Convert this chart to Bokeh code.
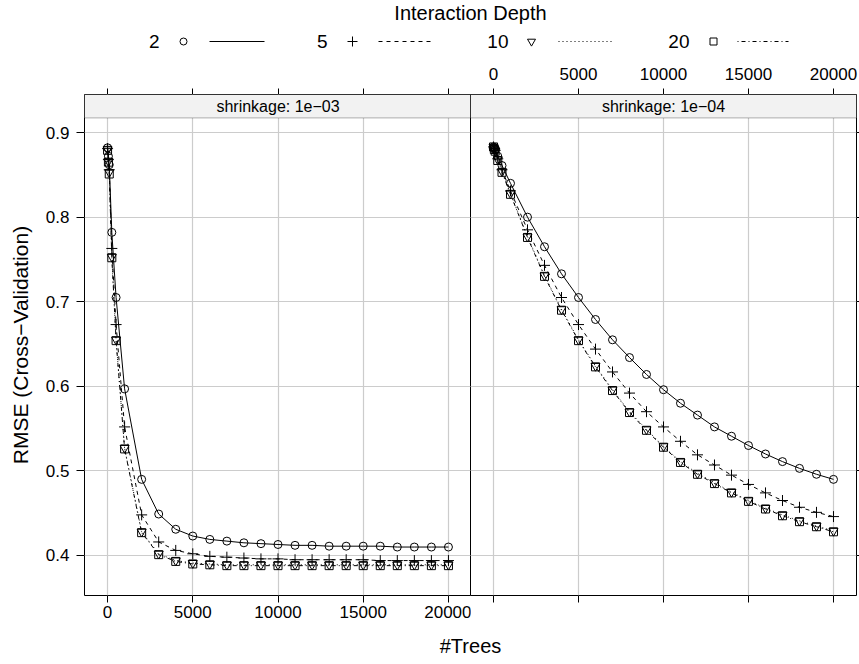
from bokeh.plotting import figure
from bokeh.layouts import column, row
from bokeh.models import Range1d, FixedTicker, LinearAxis, BoxAnnotation, Label, Grid
from bokeh.embed import file_html
from bokeh.resources import INLINE

FONT = "Liberation Sans"

# ---------------- data ----------------
trees = [1, 50, 100, 250, 500, 1000, 2000, 3000, 4000, 5000, 6000, 7000, 8000,
         9000, 10000, 11000, 12000, 13000, 14000, 15000, 16000, 17000, 18000,
         19000, 20000]

depths = ["2", "5", "10", "20"]
shrinkages = ["1e\u221203", "1e\u221204"]

# shrinkage 1e-03
s3_d2 = [0.882, 0.872, 0.862, 0.782, 0.705, 0.597, 0.490, 0.449, 0.431, 0.423, 0.419,
         0.417, 0.415, 0.414, 0.413, 0.412, 0.412, 0.411, 0.411, 0.411, 0.411, 0.410,
         0.410, 0.410, 0.410]
s3_d5 = [0.881, 0.868, 0.856, 0.763, 0.673, 0.552, 0.448, 0.416, 0.406, 0.402, 0.399,
         0.398, 0.397, 0.396, 0.396, 0.395, 0.395, 0.395, 0.395, 0.395, 0.394, 0.394,
         0.394, 0.394, 0.394]
s3_d10 = [0.880, 0.866, 0.853, 0.753, 0.655, 0.527, 0.428, 0.402, 0.394, 0.391, 0.390,
          0.389, 0.389, 0.389, 0.389, 0.389, 0.389, 0.389, 0.389, 0.389, 0.389, 0.389,
          0.389, 0.389, 0.389]
s3_d20 = [0.879, 0.865, 0.851, 0.752, 0.654, 0.526, 0.427, 0.401, 0.393, 0.390, 0.389,
          0.388, 0.388, 0.388, 0.388, 0.388, 0.388, 0.388, 0.388, 0.388, 0.388, 0.388,
          0.388, 0.388, 0.388]

# shrinkage 1e-04
s4_d2 = [0.883, 0.882, 0.880, 0.872, 0.861, 0.840, 0.800, 0.765, 0.733, 0.705, 0.679,
         0.655, 0.634, 0.614, 0.596, 0.580, 0.566, 0.552, 0.541, 0.530, 0.520, 0.511,
         0.503, 0.496, 0.490]
s4_d5 = [0.883, 0.881, 0.879, 0.869, 0.856, 0.831, 0.785, 0.743, 0.705, 0.673, 0.644,
         0.617, 0.592, 0.570, 0.552, 0.535, 0.519, 0.507, 0.495, 0.484, 0.474, 0.465,
         0.457, 0.451, 0.446]
s4_d10 = [0.883, 0.881, 0.878, 0.868, 0.854, 0.828, 0.777, 0.731, 0.691, 0.655, 0.624,
          0.596, 0.570, 0.549, 0.529, 0.511, 0.497, 0.486, 0.475, 0.465, 0.456, 0.448,
          0.441, 0.435, 0.429]
s4_d20 = [0.883, 0.880, 0.878, 0.867, 0.853, 0.827, 0.776, 0.730, 0.690, 0.654, 0.623,
          0.595, 0.569, 0.548, 0.528, 0.510, 0.496, 0.485, 0.474, 0.464, 0.455, 0.447,
          0.440, 0.434, 0.428]

x_ticks = [0, 5000, 10000, 15000, 20000]
y_ticks = [0.4, 0.5, 0.6, 0.7, 0.8, 0.9]

panels = [[s3_d2, s3_d5, s3_d10, s3_d20], [s4_d2, s4_d5, s4_d10, s4_d20]]

# ---------------- styles ----------------
markers = ["circle", "cross", "inverted_triangle", "square"]
msizes = [8, 11, 9, 8]
dashes = ["solid", "4 4", "1 3", "1 3 4 3"]

X_RANGE = (-1353, 21353)
Y_RANGE = (0.3527, 0.945)
STRIP_BOTTOM = 0.9173
LEG_H = 58
BOT_H = 36
MAIN_H = 664 - LEG_H - BOT_H
TICK_FS = "17px"
TITLE_FS = "20px"


def make_axis(ticks, show_labels, tick_out, standoff):
    ax = LinearAxis(ticker=FixedTicker(ticks=ticks))
    ax.axis_line_color = None
    ax.major_tick_line_color = "black"
    ax.major_tick_in = 0
    ax.major_tick_out = tick_out
    ax.minor_tick_line_color = None
    ax.major_label_text_font = FONT
    ax.major_label_text_color = "black"
    ax.major_label_text_font_size = TICK_FS
    ax.major_label_standoff = standoff
    if not show_labels:
        ax.major_label_overrides = {t: "" for t in ticks}
        ax.major_label_standoff = 0
    return ax


def make_panel(idx):
    left = idx == 0
    p = figure(
        width=471 if left else 389,
        height=MAIN_H,
        x_range=Range1d(*X_RANGE),
        y_range=Range1d(*Y_RANGE),
        toolbar_location=None,
        output_backend="svg",
        x_axis_location=None,
        y_axis_location=None,
        min_border_left=84 if left else 0,
        min_border_right=0 if left else 3,
        min_border_top=36,
        min_border_bottom=MAIN_H + LEG_H - 595,
        background_fill_color="white",
        border_fill_color="white",
        outline_line_color="black",
        outline_line_width=1,
    )

    if left:
        bottom = make_axis(x_ticks, True, 7, 3)
        top = make_axis(x_ticks, False, 6, 0)
        yax = make_axis(y_ticks, True, 8, 7)
        yax.axis_label = "RMSE (Cross\u2212Validation)"
        yax.axis_label_text_font = FONT
        yax.axis_label_text_font_size = "21px"
        yax.axis_label_text_font_style = "normal"
        yax.axis_label_text_color = "black"
        yax.axis_label_standoff = 11
        p.add_layout(bottom, "below")
        p.add_layout(top, "above")
        p.add_layout(yax, "left")
    else:
        top = make_axis(x_ticks, True, 6, 9)
        bottom = make_axis(x_ticks, False, 7, 0)
        yax = make_axis(y_ticks, False, 3, 0)
        p.add_layout(top, "above")
        p.add_layout(bottom, "below")
        p.add_layout(yax, "right")
        p.margin = (0, 0, 0, -1)

    for dim, ticks in ((0, x_ticks), (1, y_ticks)):
        g = Grid(dimension=dim, ticker=FixedTicker(ticks=ticks),
                 grid_line_color="#cccccc", grid_line_width=1.2)
        p.add_layout(g)

    series = panels[idx]
    for k, ys in enumerate(series):
        p.line(trees, ys, line_color="black", line_width=1, line_dash=dashes[k])
        p.scatter(trees, ys, marker=markers[k], size=msizes[k],
                  line_color="black", fill_color=None, line_width=1)

    strip = BoxAnnotation(bottom=STRIP_BOTTOM, fill_color="#f2f2f2", fill_alpha=1,
                          line_color="black", line_width=1, level="overlay")
    p.add_layout(strip)
    p.add_layout(Label(x=(X_RANGE[0] + X_RANGE[1]) / 2,
                       y=(STRIP_BOTTOM + Y_RANGE[1]) / 2,
                       text="shrinkage: " + shrinkages[idx],
                       text_align="center", text_baseline="middle",
                       text_font=FONT, text_font_size="16px", text_color="black",
                       level="overlay"))
    return p


p1 = make_panel(0)
p2 = make_panel(1)


def blank_fig(h):
    f = figure(width=859, height=h, x_range=Range1d(0, 859), y_range=Range1d(h, 0),
               toolbar_location=None, output_backend="svg", min_border=0,
               outline_line_color=None, background_fill_color="white",
               border_fill_color="white", x_axis_location=None, y_axis_location=None)
    f.grid.visible = False
    return f


# ---------------- legend (key) ----------------
leg = blank_fig(LEG_H)
leg.add_layout(Label(x=470, y=12, text="Interaction Depth", text_align="center",
                     text_baseline="middle", text_font=FONT, text_font_size="20px",
                     text_color="black"))
label_right = [159, 327, 508, 689]
marker_x = [183, 352, 531, 713]
line_x0 = [209, 378, 558, 737]
line_x1 = [264, 432, 611, 788]
KEY_Y = 41
for k, d in enumerate(depths):
    leg.add_layout(Label(x=label_right[k], y=KEY_Y, text=d, text_align="right",
                         text_baseline="middle", text_font=FONT, text_font_size="19px",
                         text_color="black"))
    leg.scatter([marker_x[k]], [KEY_Y], marker=markers[k], size=msizes[k] - 1,
                line_color="black", fill_color=None, line_width=1)
    leg.line([line_x0[k], line_x1[k]], [KEY_Y, KEY_Y], line_color="black",
             line_width=1, line_dash=dashes[k])

# ---------------- x label (centred under both panels) ----------------
bot = blank_fig(BOT_H)
bot.add_layout(Label(x=470, y=17, text="#Trees", text_align="center",
                     text_baseline="middle", text_font=FONT, text_font_size="20px",
                     text_color="black"))

layout = column(leg, row(p1, p2, spacing=0), bot, spacing=0)
open("out.html", "w").write(file_html(layout, INLINE))
